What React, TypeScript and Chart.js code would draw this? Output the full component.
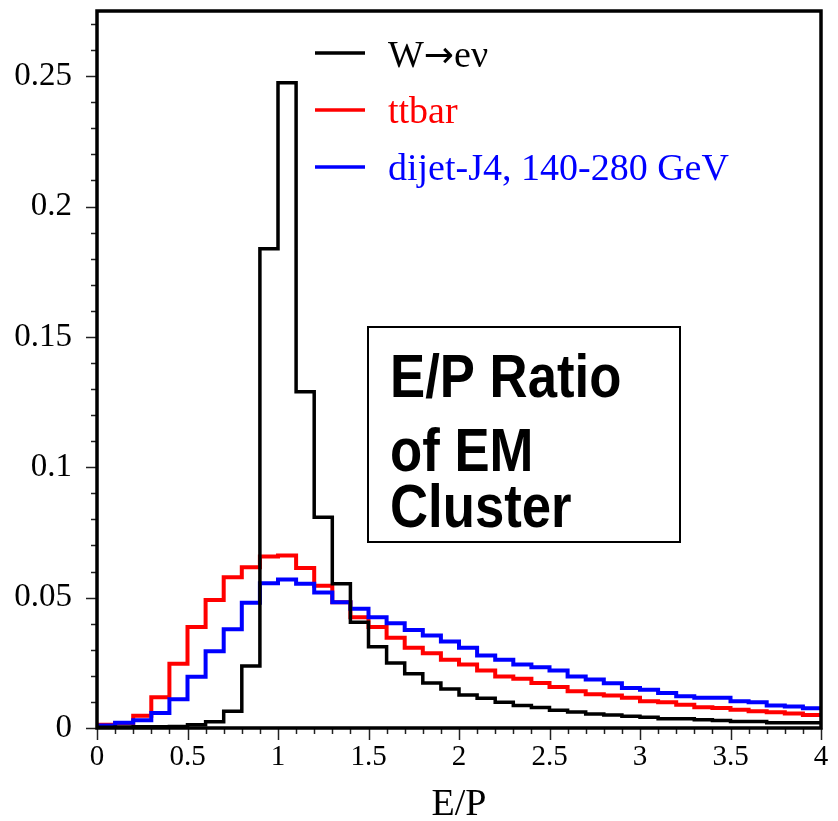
import React, { useEffect, useRef } from "react";
import { Chart, registerables } from "chart.js";

Chart.register(...registerables);

// Lower bin edges (E/P), plus the closing edge at 4.0
const binEdges = [
  0.0, 0.1, 0.2, 0.3, 0.4, 0.5, 0.6, 0.7, 0.8, 0.9,
  1.0, 1.1, 1.2, 1.3, 1.4, 1.5, 1.6, 1.7, 1.8, 1.9,
  2.0, 2.1, 2.2, 2.3, 2.4, 2.5, 2.6, 2.7, 2.8, 2.9,
  3.0, 3.1, 3.2, 3.3, 3.4, 3.5, 3.6, 3.7, 3.8, 3.9, 4.0,
];

const wenuValues = [
  0.0003, 0.0004, 0.0005, 0.0005, 0.0006, 0.0012, 0.0024, 0.0064, 0.0238, 0.1838,
  0.2475, 0.129, 0.0808, 0.0553, 0.0406, 0.0312, 0.0249, 0.0208, 0.0173, 0.015,
  0.0127, 0.0114, 0.0099, 0.0086, 0.0079, 0.0068, 0.0061, 0.0054, 0.005, 0.0045,
  0.0041, 0.0035, 0.0035, 0.0032, 0.0029, 0.0025, 0.0025, 0.002, 0.002, 0.002,
];

const ttbarValues = [
  0.0012, 0.0018, 0.0047, 0.0118, 0.0246, 0.0387, 0.0491, 0.0578, 0.0617, 0.0658,
  0.0662, 0.0614, 0.0546, 0.0482, 0.0425, 0.0387, 0.0346, 0.0308, 0.0287, 0.0262,
  0.0244, 0.0221, 0.0198, 0.0189, 0.0173, 0.0157, 0.0141, 0.0129, 0.0125, 0.0116,
  0.0103, 0.0099, 0.0089, 0.008, 0.0077, 0.007, 0.0064, 0.006, 0.0056, 0.005,
];

const dijetValues = [
  0.001, 0.002, 0.003, 0.0058, 0.011, 0.0197, 0.0294, 0.0379, 0.048, 0.0555,
  0.057, 0.0553, 0.052, 0.0482, 0.0457, 0.0425, 0.0402, 0.0376, 0.0355, 0.0332,
  0.0308, 0.0278, 0.0262, 0.0244, 0.0233, 0.0221, 0.0198, 0.0186, 0.0172, 0.0153,
  0.0147, 0.0134, 0.0122, 0.0116, 0.0116, 0.0103, 0.0099, 0.0086, 0.0082, 0.0076,
];

const seriesLabels = ["W\u2192e\u03bd", "ttbar", "dijet-J4, 140-280 GeV"];
const seriesColors = ["#000000", "#ff0000", "#0000ff"];

const xTicks = [0, 0.5, 1, 1.5, 2, 2.5, 3, 3.5, 4];
const yTicks = [0, 0.05, 0.1, 0.15, 0.2, 0.25];
const xMinorStep = 0.1;
const yMinorStep = 0.01;
const xTitle = "E/P";
const boxLines = ["E/P Ratio", "of EM", "Cluster"];

function toSteps(values: number[]) {
  // one point per bin at its lower edge, plus closing point at the upper edge
  const pts = values.map((v, i) => ({ x: binEdges[i], y: v }));
  pts.push({ x: binEdges[binEdges.length - 1], y: values[values.length - 1] });
  return pts;
}

const SERIF = "'Liberation Serif', 'DejaVu Serif', serif";
const SANS = "'Liberation Sans', Arial, sans-serif";

// draws text, using a different font for arrow characters
function drawMixed(ctx: any, text: string, x: number, y: number, font: string, arrowFont: string) {
  let cx = x;
  for (const part of text.split(/(\u2192)/)) {
    if (!part) continue;
    ctx.font = part === "\u2192" ? arrowFont : font;
    ctx.fillText(part, cx, y);
    cx += ctx.measureText(part).width;
  }
}

const framePlugin = {
  id: "frameAndTicks",
  afterDatasetsDraw(chart: any) {
    const { ctx, chartArea } = chart;
    const xs = chart.scales.x;
    const ys = chart.scales.y;
    ctx.save();
    ctx.strokeStyle = "#222";
    ctx.lineWidth = 1.5;
    const nx = Math.round((xs.max - xs.min) / xMinorStep);
    for (let i = 0; i <= nx; i++) {
      const v = xs.min + i * xMinorStep;
      const major = xTicks.some((t) => Math.abs(t - v) < 1e-6);
      const px = Math.round(xs.getPixelForValue(v)) + 0.5;
      ctx.beginPath();
      ctx.moveTo(px, chartArea.bottom);
      ctx.lineTo(px, chartArea.bottom + (major ? 12 : 6));
      ctx.stroke();
    }
    const ny = Math.floor((ys.max - ys.min) / yMinorStep + 1e-6);
    for (let i = 0; i <= ny; i++) {
      const v = ys.min + i * yMinorStep;
      const major = yTicks.some((t) => Math.abs(t - v) < 1e-6);
      const py = Math.round(ys.getPixelForValue(v)) + 0.5;
      ctx.beginPath();
      ctx.moveTo(chartArea.left, py);
      ctx.lineTo(chartArea.left - (major ? 11 : 6), py);
      ctx.stroke();
    }
    ctx.strokeStyle = "#000";
    ctx.lineWidth = 3.5;
    ctx.strokeRect(
      chartArea.left,
      chartArea.top,
      chartArea.right - chartArea.left,
      chartArea.bottom - chartArea.top
    );
    ctx.restore();
  },
  afterDraw(chart: any) {
    const { ctx } = chart;
    ctx.save();
    const legendOrder = [0, 2, 1]; // dataset indices: W, ttbar, dijet
    const lineY = [53, 110, 167];
    const textY = [67, 123, 180];
    ctx.textBaseline = "alphabetic";
    ctx.textAlign = "left";
    legendOrder.forEach((di, row) => {
      const ds = chart.data.datasets[di];
      ctx.strokeStyle = ds.borderColor;
      ctx.lineWidth = 3.5;
      ctx.beginPath();
      ctx.moveTo(315, lineY[row]);
      ctx.lineTo(365, lineY[row]);
      ctx.stroke();
      ctx.fillStyle = ds.borderColor;
      drawMixed(ctx, ds.label, 388, textY[row], "38px " + SERIF, "36px 'DejaVu Sans'");
    });
    ctx.fillStyle = "#fff";
    ctx.fillRect(368, 327, 312, 215);
    ctx.strokeStyle = "#000";
    ctx.lineWidth = 2;
    ctx.strokeRect(368, 327, 312, 215);
    ctx.fillStyle = "#000";
    ctx.font = "bold 62px " + SANS;
    const baselines = [397, 471, 527];
    boxLines.forEach((t, i) => {
      ctx.save();
      ctx.translate(390, baselines[i]);
      ctx.scale(0.85, 1);
      ctx.fillText(t, 0, 0);
      ctx.restore();
    });
    ctx.restore();
  },
};

export default function App() {
  const ref = useRef<HTMLCanvasElement | null>(null);
  useEffect(() => {
    if (!ref.current) return;
    const mk = (label: string, values: number[], color: string, width: number) => ({
      label,
      data: toSteps(values),
      borderColor: color,
      borderWidth: width,
      stepped: "before",
      pointRadius: 0,
      fill: false,
    });
    const chart = new Chart(ref.current, {
      type: "line",
      data: {
        datasets: [
          mk(seriesLabels[0], wenuValues, seriesColors[0], 3.5),
          mk(seriesLabels[2], dijetValues, seriesColors[2], 4),
          mk(seriesLabels[1], ttbarValues, seriesColors[1], 4),
        ],
      },
      options: {
        animation: false,
        responsive: false,
        maintainAspectRatio: false,
        layout: { padding: { top: 11, right: 17, left: 0, bottom: 0 } },
        plugins: {
          legend: { display: false },
          tooltip: { enabled: false },
        },
        scales: {
          x: {
            type: "linear",
            min: 0,
            max: 4,
            grid: { display: false, drawTicks: false },
            border: { display: false },
            afterBuildTicks: (s: any) => {
              s.ticks = xTicks.map((v) => ({ value: v }));
            },
            afterFit: (s: any) => {
              s.height = 93;
              s.paddingLeft = 0;
              s.paddingRight = 0;
            },
            ticks: {
              autoSkip: false,
              maxRotation: 0,
              padding: 12,
              color: "#000",
              font: { family: SERIF, size: 29 },
              callback: (v: any) => String(v),
            },
            title: {
              display: true,
              text: xTitle,
              color: "#000",
              font: { family: SERIF, size: 38, lineHeight: 0.8 },
              padding: { top: 0, bottom: 1 },
            },
          },
          y: {
            type: "linear",
            min: 0,
            max: 0.275,
            grid: { display: false, drawTicks: false },
            border: { display: false },
            afterBuildTicks: (s: any) => {
              s.ticks = yTicks.map((v) => ({ value: v }));
            },
            afterFit: (s: any) => {
              s.width = 97;
              s.paddingTop = 0;
              s.paddingBottom = 0;
            },
            ticks: {
              autoSkip: false,
              padding: 25,
              color: "#000",
              font: { family: SERIF, size: 33 },
              callback: (v: any) => String(v),
            },
          },
        },
      },
      plugins: [framePlugin],
    } as any);
    return () => chart.destroy();
  }, []);
  return (
    <div style={{ position: "absolute", left: 0, top: 0, width: 838, height: 821, background: "#fff" }}>
      <canvas ref={ref} width={838} height={821} style={{ width: 838, height: 821, display: "block" }} />
    </div>
  );
}
